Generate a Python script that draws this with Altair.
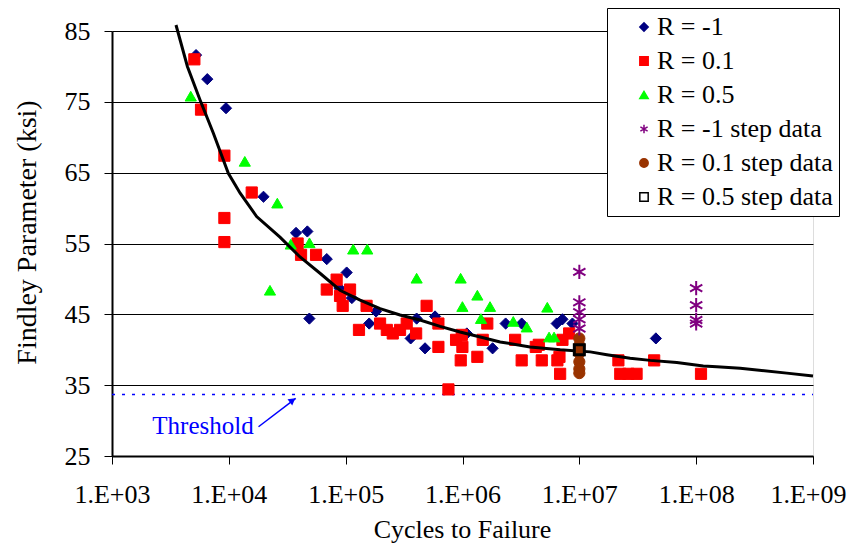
import altair as alt
import pandas as pd

series_names = ["R = -1", "R = 0.1", "R = 0.5", "R = -1 step data",
                "R = 0.1 step data", "R = 0.5 step data"]

rm1_cycles = [5240, 6540, 9460, 19800, 37600, 47000, 48900, 68900, 88300, 102000,
              113000, 159000, 182000, 360000, 405000, 478000, 582000, 1.09e6, 1.81e6,
              2.34e6, 3.21e6, 6.4e6, 7.17e6, 8.73e6, 4.52e7]
rm1_findley = [81.6, 78.2, 74.1, 61.6, 56.5, 56.7, 44.4, 52.8, 48.7, 50.9,
               47.3, 43.7, 45.4, 41.6, 44.4, 40.2, 44.7, 42.3, 40.2,
               43.7, 43.7, 43.7, 44.3, 43.7, 41.6]

r01_cycles = [5070, 5780, 9160, 9160, 9160, 15700, 38800, 41500, 55800, 68900,
              83700, 89500, 94300, 109000, 130000, 151000, 197000, 225000, 253000,
              292000, 333000, 401000, 493000, 622000, 622000, 758000, 881000, 966000,
              986000, 998000, 1.34e6, 1.49e6, 1.63e6, 2.82e6, 3.21e6, 4.24e6, 4.5e6,
              4.77e6, 6.49e6, 6.76e6, 6.85e6, 7.17e6, 8.18e6, 2.16e7, 2.24e7, 2.63e7,
              3.09e7, 4.37e7, 1.1e8]
r01_findley = [81.0, 73.9, 67.4, 58.6, 55.2, 62.2, 55.0, 53.4, 53.4, 48.5,
               49.9, 47.6, 46.2, 48.5, 42.8, 46.2, 43.7, 42.8, 42.3,
               42.8, 43.7, 42.3, 46.2, 43.7, 40.4, 34.4, 41.4, 38.5,
               42.1, 40.4, 39.0, 41.4, 43.7, 41.4, 38.5, 40.4, 40.7,
               38.5, 38.5, 39.0, 36.6, 41.4, 42.3, 38.5, 36.6, 36.6,
               36.6, 38.5, 36.6]

r05_cycles = [4720, 13700, 22500, 26000, 33900, 49000, 116000, 153000, 405000,
              964000, 998000, 1.34e6, 1.44e6, 1.72e6, 2.72e6, 3.55e6, 5.32e6,
              5.51e6, 6.08e6]
r05_findley = [75.8, 66.6, 48.4, 60.7, 54.9, 55.1, 54.2, 54.2, 50.1,
               50.1, 46.1, 47.7, 44.4, 46.1, 44.0, 43.2, 46.0,
               41.8, 41.8]

rm1_step_cycles = [1e7, 1e7, 1e7, 1e7, 1e7, 1e8, 1e8, 1e8, 1e8]
rm1_step_findley = [51.0, 46.7, 45.3, 44.3, 43.0, 48.7, 46.3, 44.2, 43.7]

r01_step_cycles = [1e7, 1e7, 1e7, 1e7, 1e7, 1e7]
r01_step_findley = [41.6, 40.6, 39.5, 38.3, 37.3, 36.7]

r05_step_cycles = [1e7]
r05_step_findley = [40.0]

curve_cycles = [3530, 4420, 5660, 7360, 9900, 12500, 17300, 27400, 40700, 60300,
                89500, 133000, 197000, 292000, 433000, 643000, 953000, 1.42e6,
                2.1e6, 3.79e6, 6.86e6, 1.24e7, 1.72e7, 2.72e7, 4.04e7, 6.83e7,
                1.15e8, 1.5e8, 2.38e8, 5.97e8, 1e9]
curve_findley = [85.85, 80.0, 75.3, 70.6, 64.9, 62.1, 58.8, 55.9, 53.1, 50.8,
                 48.4, 47.0, 45.8, 44.9, 44.2, 43.3, 42.5, 41.8,
                 41.1, 40.4, 40.0, 39.7, 39.3, 38.8, 38.5, 38.2,
                 37.7, 37.6, 37.4, 36.7, 36.3]

threshold_cycles = [1e3, 1e9]
threshold_findley = [33.7, 33.7]

arrow_cycles = [17950, 37400]
arrow_findley = [29.13, 33.14]
arrow_head_cycles = [35100]
arrow_head_findley = [32.85]

label_cycles = [6010]
label_findley = [29.2]
label_text = ["Threshold"]

fill_range = ["#000080", "#FF0000", "#00FF00", "transparent", "#993300", "transparent"]
stroke_range = ["#000080", "#FF0000", "#00FF00", "#800080", "#993300", "#000000"]
asterisk = "M0,-1L0,1M-0.866,-0.5L0.866,0.5M-0.866,0.5L0.866,-0.5"
shape_range = ["diamond", "square", "triangle-up", asterisk, "circle", "square"]

def series_df(name, xs, ys):
    return pd.DataFrame({"series": [name] * len(xs), "cycles": xs, "findley": ys})

main_pts = pd.concat([series_df(series_names[0], rm1_cycles, rm1_findley),
                      series_df(series_names[1], r01_cycles, r01_findley),
                      series_df(series_names[2], r05_cycles, r05_findley)])
circle_pts = series_df(series_names[4], r01_step_cycles, r01_step_findley)
star_pts = series_df(series_names[3], rm1_step_cycles, rm1_step_findley)
open_sq_pts = series_df(series_names[5], r05_step_cycles, r05_step_findley)

curve_df = pd.DataFrame({"cycles": curve_cycles, "findley": curve_findley})
thr_df = pd.DataFrame({"cycles": threshold_cycles, "findley": threshold_findley})
arrow_df = pd.DataFrame({"cycles": arrow_cycles, "findley": arrow_findley})
head_df = pd.DataFrame({"cycles": arrow_head_cycles, "findley": arrow_head_findley})
label_df = pd.DataFrame({"cycles": label_cycles, "findley": label_findley, "text": label_text})

FONT = "Liberation Serif"

x_enc = alt.X("cycles:Q",
              scale=alt.Scale(type="log", domain=[1e3, 1e9], nice=False),
              axis=alt.Axis(values=[1e3, 1e4, 1e5, 1e6, 1e7, 1e8, 1e9],
                            labelExpr="'1.E+' + format(round(log(datum.value)/LN10), '02d')",
                            grid=False, tickSize=8, tickColor="black", tickWidth=1,
                            domainColor="black", domainWidth=2,
                            labelFont=FONT, labelFontSize=26, labelColor="black",
                            labelPadding=17, labelFlush=False,
                            labelOffset=alt.condition("datum.value >= 1e9",
                                                      alt.value(-5), alt.value(0)),
                            title="Cycles to Failure", titleFont=FONT, titleFontSize=26,
                            titleFontWeight="normal", titleColor="black",
                            titleX=350, titleY=73, titleBaseline="middle",
                            titleAlign="center"))
y_enc = alt.Y("findley:Q",
              scale=alt.Scale(domain=[25, 85], nice=False, zero=False),
              axis=alt.Axis(values=[25, 35, 45, 55, 65, 75, 85],
                            grid=True, gridColor="black", gridWidth=1,
                            tickSize=8, tickColor="black", tickWidth=1,
                            domainColor="black", domainWidth=2,
                            labelFont=FONT, labelFontSize=26, labelColor="black",
                            labelPadding=14, labelFlush=False,
                            title="Findley Parameter (ksi)", titleFont=FONT,
                            titleFontSize=28, titleFontWeight="normal",
                            titleColor="black", titleX=-85, titleY=201,
                            titleAngle=-90, titleBaseline="middle",
                            titleAlign="center"))

legend = alt.Legend(orient="none", legendX=495, legendY=-23, title=None,
                    labelFont=FONT, labelFontSize=26, labelColor="black",
                    labelLimit=400,
                    symbolSize=70, symbolStrokeWidth=1.5,
                    strokeColor="black", fillColor="white",
                    padding=6, rowPadding=8, symbolOffset=18, labelOffset=0,
                    labelExpr="datum.label + '\u2009'")

def legend_layer(df):
    return alt.Chart(df).mark_point(size=125, strokeWidth=1, opacity=1).encode(
        x=x_enc, y=y_enc,
        fill=alt.Fill("series:N", scale=alt.Scale(domain=series_names, range=fill_range), legend=legend),
        stroke=alt.Stroke("series:N", scale=alt.Scale(domain=series_names, range=stroke_range), legend=legend),
        shape=alt.Shape("series:N", scale=alt.Scale(domain=series_names, range=shape_range), legend=legend),
    )

stars = alt.Chart(star_pts).mark_point(shape=asterisk, color="#800080", size=200,
                                       strokeWidth=2, opacity=1).encode(x=x_enc, y=y_enc)
open_sq = alt.Chart(open_sq_pts).mark_point(shape="square", color="black", size=100,
                                            strokeWidth=3, opacity=1).encode(x=x_enc, y=y_enc)

threshold = alt.Chart(thr_df).mark_line(color="#0000FF", strokeWidth=1.5, strokeDash=[3, 7]).encode(
    x=x_enc, y=y_enc)
arrow = alt.Chart(arrow_df).mark_line(color="#0000FF", strokeWidth=1.5).encode(x=x_enc, y=y_enc)
head = alt.Chart(head_df).mark_point(shape="triangle-up", filled=True, color="#0000FF",
                                     size=60, angle=52.6, opacity=1).encode(x=x_enc, y=y_enc)
label = alt.Chart(label_df).mark_text(font=FONT, fontSize=25, color="#0000FF",
                                      align="center", baseline="middle").encode(
    x=x_enc, y=y_enc, text="text:N")
curve = alt.Chart(curve_df).mark_line(color="black", strokeWidth=3).encode(x=x_enc, y=y_enc)

chart = alt.layer(threshold, arrow, head, label, legend_layer(main_pts), curve,
                  legend_layer(circle_pts), stars, open_sq).properties(
    width=701, height=425,
    padding={"left": 104, "top": 23, "right": 35, "bottom": 90},
    autosize=alt.AutoSizeParams(type="none"),
).configure_view(stroke="black", strokeWidth=1.5).configure(background="white")

chart.save("out.html", embed_options={"renderer": "svg", "actions": False})
